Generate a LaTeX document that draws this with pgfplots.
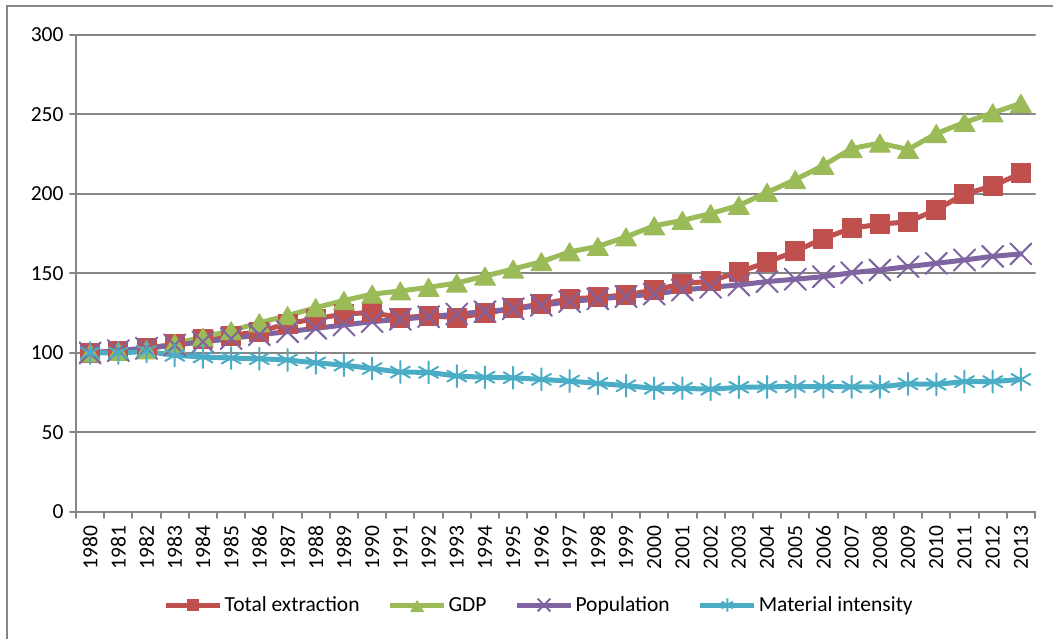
\documentclass[border=0pt]{standalone}
\usepackage{pgfplots}
\pgfplotsset{compat=1.18}
\usepackage{pgfplotstable}
\usepackage{fontspec}
\setmainfont{Carlito}

\definecolor{extr}{HTML}{C0504D}
\definecolor{gdp}{HTML}{9BBB59}
\definecolor{pop}{HTML}{8064A2}
\definecolor{mint}{HTML}{4BACC6}
\definecolor{gridgray}{HTML}{868686}

% Index numbers, 1980 = 100 (idx 0 = 1980)
\pgfplotstableread{
idx extr  gdp   pop   mint
0   100   100   100   100
1   101.5 101   101.5 100
2   103   102   103   101
3   105.5 106   105   98.5
4   108.5 110   107   97.5
5   111   114   109   96.8
6   113.5 119   111.5 96.4
7   118.5 123.5 113.4 95.6
8   121.5 128.5 115.5 93.8
9   124.5 133   117.6 92.4
10  125.5 137   119.7 90.2
11  122   139   121.2 88
12  123.5 141.3 122.8 87.8
13  122.2 144   124.5 85.5
14  125   148.4 126   84.7
15  128   152.8 127.8 84.4
16  130.8 157.4 130   83.4
17  134   163.6 132.3 82.3
18  135   167   134   80.9
19  136.5 173   135.5 79.4
20  139.6 180   137   77.8
21  143.5 183.4 139.6 77.8
22  145.2 187.7 141.3 77.2
23  151   192.8 142.8 78.4
24  157   201   144.9 78.7
25  164   209   146.4 78.9
26  172   218   148   78.9
27  178.5 228.6 150.5 78.7
28  181   232   152.2 78.7
29  182.5 228   154.3 80.6
30  190   238   156.4 80.3
31  200   245   158.5 82
32  205   251   160.8 82
33  213   257   162.3 83.4
}\indexdata

\begin{document}
\begin{tikzpicture}[x=1pt,y=1pt]
\useasboundingbox (0,0) rectangle (1053,639);
% chart area border
\draw[gridgray, line width=2pt] (7,0) -- (7,632.5) -- (1053,632.5);
\begin{axis}[
  at={(76pt,127pt)}, anchor=south west,
  scale only axis, width=959pt, height=477pt,
  xmin=-0.5, xmax=33.5, ymin=0, ymax=300,
  axis x line*=bottom, axis y line*=left,
  axis line style={gridgray, line width=2pt, -},
  xtick={-0.5,0.5,...,33.5},
  x tick label as interval,
  xticklabels={1980,1981,1982,1983,1984,1985,1986,1987,1988,1989,1990,1991,1992,1993,1994,1995,1996,1997,1998,1999,2000,2001,2002,2003,2004,2005,2006,2007,2008,2009,2010,2011,2012,2013},
  ytick={0,50,...,300},
  ymajorgrids,
  grid style={gridgray, line width=2pt},
  tick align=outside,
  major tick length=6pt,
  tick style={gridgray, line width=2pt},
  ticklabel style={font=\fontsize{21.5}{25}\selectfont, text=black},
  xticklabel style={rotate=90, anchor=east},
  xticklabel shift=4pt,
  yticklabel shift=3pt,
  /pgf/number format/assume math mode=true,
  clip=false,
  line join=round, line cap=round,
  legend columns=4,
  legend style={at={(0.483,-0.195)}, anchor=center, draw=none,
    font=\fontsize{21.5}{25}\selectfont,
    nodes={inner sep=2pt},
    /tikz/every even column/.append style={column sep=26pt}},
  legend image code/.code={%
    \draw[#1, every mark/.append style={scale=0.6}, mark repeat=2, mark phase=2]
      plot coordinates {(0pt,0pt) (27pt,0pt) (54pt,0pt)};},
]
\addplot[extr, line width=5pt, mark=square*, mark size=9.5pt,
  mark options={solid, fill=extr, line width=1pt}]
  table[x=idx, y=extr] {\indexdata};
\addlegendentry{Total extraction}
% triangles centred on their bounding box rather than their circumcentre
\addplot[gdp, line width=5pt, mark=triangle*, mark size=12pt,
  mark options={solid, fill=gdp, line width=1pt, yshift=-3pt}]
  table[x=idx, y=gdp] {\indexdata};
\addlegendentry{GDP}
\addplot[pop, line width=5pt, mark=x, mark size=15pt,
  mark options={solid, line width=2pt}]
  table[x=idx, y=pop] {\indexdata};
\addlegendentry{Population}
\addplot[mint, line width=5pt, mark=asterisk, mark size=11pt,
  mark options={solid, line width=2pt}]
  table[x=idx, y=mint] {\indexdata};
\addlegendentry{Material intensity}
\end{axis}
\end{tikzpicture}
\end{document}
